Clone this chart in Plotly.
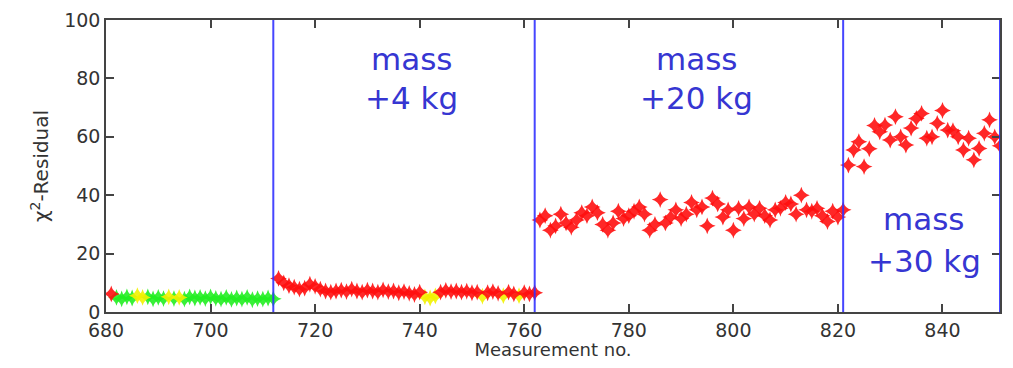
import plotly.graph_objects as go

# ---- data ----
seg1_x = list(range(681, 713))
seg1_y = [6.2, 5.0, 4.5, 5.2, 4.8, 5.6, 5.0, 5.2, 4.5, 5.0, 4.6, 5.2, 4.6, 5.0, 4.4,
          5.2, 4.8, 5.0, 4.6, 5.2, 4.7, 4.4, 5.0, 4.3, 4.8, 4.4, 5.0, 4.2, 4.6, 4.4, 4.8, 4.5]
seg1_status = ["alarm", "ok", "ok", "ok", "ok", "warn", "warn", "ok", "ok", "ok", "ok",
               "warn", "ok", "warn", "ok", "ok", "ok", "ok", "ok", "ok", "ok", "ok", "ok",
               "ok", "ok", "ok", "ok", "ok", "ok", "ok", "ok", "ok"]

seg2_x = list(range(713, 763))
seg2_y = [11.5, 10.0, 9.0, 8.5, 7.8, 8.2, 9.5, 8.8, 7.8, 7.2, 6.8, 7.2, 7.5, 7.0, 7.8, 7.2,
          6.8, 7.5, 7.2, 6.8, 7.6, 7.0, 7.2, 6.6, 7.0, 6.4, 6.0, 6.8, 5.2, 4.8, 5.5, 6.8,
          7.4, 7.0, 7.2, 6.8, 7.1, 6.6, 6.8, 5.4, 6.6, 7.0, 6.4, 5.6, 6.8, 6.2, 5.6, 6.6,
          6.2, 6.6]
seg2_status = ["alarm"] * 28 + ["warn", "warn", "warn"] + ["alarm"] * 8 + ["warn"] + \
              ["alarm"] * 3 + ["warn"] + ["alarm"] * 2 + ["warn"] + ["alarm"] * 3

seg3_x = list(range(763, 822))
seg3_y = [31.5, 33.0, 28.0, 29.5, 33.5, 30.5, 29.0, 31.5, 34.0, 33.0, 36.0, 34.0, 30.0,
          28.0, 30.5, 34.5, 32.0, 33.0, 34.5, 36.0, 33.5, 28.0, 30.0, 38.5, 30.5, 32.5,
          35.0, 32.0, 33.5, 37.5, 35.0, 36.0, 29.5, 39.0, 37.0, 32.5, 35.0, 28.0, 35.5,
          32.0, 36.0, 33.5, 35.5, 33.0, 31.5, 35.0, 35.5, 37.5, 37.0, 33.5, 40.0, 35.0,
          34.5, 35.5, 33.0, 31.0, 34.5, 32.5, 35.0]
seg3_status = ["alarm"] * len(seg3_x)

seg4_x = list(range(822, 852))
seg4_y = [50.3, 55.5, 58.3, 49.8, 55.9, 63.9, 61.7, 64.0, 58.9, 66.9, 60.0, 57.2, 63.0,
          66.3, 68.0, 59.5, 60.0, 64.6, 69.0, 62.3, 62.1, 60.0, 55.5, 59.5, 52.1, 56.0,
          61.2, 65.8, 60.0, 56.9]
seg4_status = ["alarm"] * len(seg4_x)

boundaries = [712, 762, 821, 851]

label_x = [738.5, 793, 836.5]
label_line1 = ["mass", "mass", "mass"]
label_line2 = ["+4 kg", "+20 kg", "+30 kg"]
label_y1 = [86.5, 86.5, 31.7]
label_y2 = [73.2, 73.2, 17.3]

x_ticks = [680, 700, 720, 740, 760, 780, 800, 820, 840]
y_ticks = [0, 20, 40, 60, 80, 100]

# ---- figure ----
status_colors = {"ok": "#22ee22", "warn": "#f2f200", "alarm": "#ff1010"}
FONT = "DejaVu Sans"

all_x = seg1_x + seg2_x + seg3_x + seg4_x
all_y = seg1_y + seg2_y + seg3_y + seg4_y
all_s = seg1_status + seg2_status + seg3_status + seg4_status

fig = go.Figure()
for st in ["ok", "warn", "alarm"]:
    xs = [x for x, s in zip(all_x, all_s) if s == st]
    ys = [y for y, s in zip(all_y, all_s) if s == st]
    fig.add_trace(go.Scatter(
        x=xs, y=ys, mode="markers", name=st, showlegend=False,
        marker=dict(symbol="star-diamond", size=12, color=status_colors[st],
                    opacity=0.9, line=dict(width=0)),
        hoverinfo="x+y"))

shapes = []
for b in boundaries:
    shapes.append(dict(type="line", xref="x", yref="paper", x0=b, x1=b, y0=0, y1=1,
                       line=dict(color="rgba(50,50,255,0.9)", width=2)))

annotations = []
for lx, t1, t2, y1, y2 in zip(label_x, label_line1, label_line2, label_y1, label_y2):
    for t, yy in ((t1, y1), (t2, y2)):
        annotations.append(dict(x=lx, y=yy, xref="x", yref="y", text=t, showarrow=False,
                                font=dict(family=FONT, size=31, color="#3636d2"),
                                xanchor="center", yanchor="middle"))

axis_common = dict(showline=True, linecolor="#444444", linewidth=1.5, mirror="ticks",
                   ticks="inside", ticklen=8, tickwidth=1.5, tickcolor="#444444",
                   showgrid=False, zeroline=False, automargin=False,
                   tickfont=dict(family=FONT, size=19, color="#333333"))

# page body has an 8px margin around the figure
fig.update_layout(
    width=997, height=352,
    margin=dict(l=98, r=5, t=12, b=48),
    paper_bgcolor="white", plot_bgcolor="white",
    shapes=shapes, annotations=annotations,
    xaxis=dict(range=[680, 851], tickvals=x_ticks,
               title=dict(text="Measurement no.", standoff=5,
                          font=dict(family=FONT, size=18, color="#333333")),
               **axis_common),
    yaxis=dict(range=[0, 100], tickvals=y_ticks,
               title=dict(text="χ<sup>2</sup>-Residual", standoff=10,
                          font=dict(family=FONT, size=20, color="#333333")),
               **axis_common),
)

fig.write_html("out.html")
